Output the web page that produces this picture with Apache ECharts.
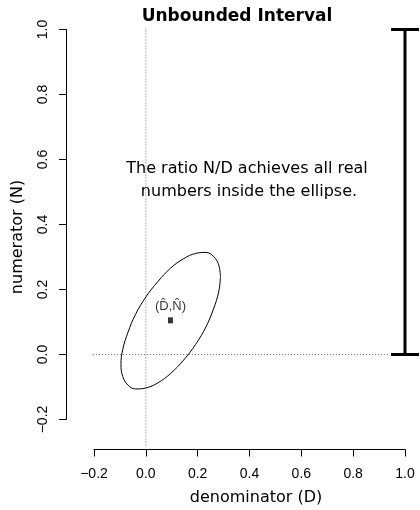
<!DOCTYPE html>
<html>
<head>
<meta charset="utf-8">
<script src="https://cdn.jsdelivr.net/npm/echarts@6/dist/echarts.min.js"></script>
<style>
  html, body { margin: 0; padding: 0; background: #fff; }
  #main { width: 420px; height: 510px; }
</style>
</head>
<body>
<div id="main"></div>
<script>
// ticks
const axisTicks = [-0.2, 0.0, 0.2, 0.4, 0.6, 0.8, 1.0]

// confidence ellipse outline (D, N)
const ellipseD = [0.288, 0.281, 0.261, 0.232, 0.192, 0.146, 0.096, 0.047, 0.000, -0.040, -0.069, -0.089,
  -0.096, -0.089, -0.069, -0.040, 0.000, 0.047, 0.096, 0.146, 0.192, 0.232, 0.261, 0.281, 0.288]
const ellipseN = [0.239, 0.276, 0.302, 0.314, 0.311, 0.295, 0.266, 0.225, 0.177, 0.123, 0.068, 0.016,
  -0.031, -0.068, -0.094, -0.106, -0.103, -0.087, -0.058, -0.017, 0.031, 0.085, 0.140, 0.192, 0.239]

// point estimate (D hat, N hat)
const estimate = [0.095, 0.105]

// reference lines D = 0 and N = 0
const vLineD = [0, 0]
const vLineN = [-0.28, 1.005]
const hLineD = [-0.25, 0.94]
const hLineN = [0, 0]

// the interval of N/D, drawn at D = 1
const intervalAt = 1.0
const intervalLow = 0.0
const intervalHigh = 1.0

const zip = (a, b) => a.map((v, i) => [v, b[i]])
const fmt = v => v.toFixed(1).replace('-', '\u2212')

const chart = echarts.init(document.getElementById('main'))

const axisCommon = {
  type: 'value',
  min: axisTicks[0],
  max: axisTicks[axisTicks.length - 1],
  interval: 0.2,
  splitLine: { show: false },
  axisLine: { show: true, onZero: false, lineStyle: { color: '#000', width: 1 } },
  axisTick: { show: true, length: 7, lineStyle: { color: '#000', width: 1 } },
  axisLabel: {
    formatter: fmt, color: '#000', fontFamily: 'Liberation Sans', fontSize: 14,
    showMinLabel: true, showMaxLabel: true
  }
}

const option = {
  animation: false,
  backgroundColor: '#fff',
  grid: { left: 94, right: 15, top: 29.5, bottom: 90.5 },
  xAxis: Object.assign({}, axisCommon, {
    position: 'bottom',
    offset: 30,
    axisLabel: Object.assign({}, axisCommon.axisLabel, { margin: 18 })
  }),
  yAxis: Object.assign({}, axisCommon, {
    position: 'left',
    offset: 28,
    axisLabel: Object.assign({}, axisCommon.axisLabel, { rotate: 90, margin: 16 })
  }),
  graphic: [
    { type: 'text', x: 237, y: 17, style: { text: 'Unbounded Interval', font: 'bold 17px "DejaVu Sans"', fill: '#000', textAlign: 'center', textVerticalAlign: 'middle' } },
    { type: 'text', x: 247, y: 169, style: { text: 'The ratio N/D achieves all real', font: '16px "DejaVu Sans"', fill: '#000', textAlign: 'center', textVerticalAlign: 'middle' } },
    { type: 'text', x: 249, y: 192, style: { text: 'numbers inside the ellipse.', font: '16px "DejaVu Sans"', fill: '#000', textAlign: 'center', textVerticalAlign: 'middle' } },
    { type: 'text', x: 256, y: 498, style: { text: 'denominator (D)', font: '16px "DejaVu Sans"', fill: '#000', textAlign: 'center', textVerticalAlign: 'middle' } },
    { type: 'text', x: 18, y: 237, rotation: Math.PI / 2, style: { text: 'numerator (N)', font: '16px "DejaVu Sans"', fill: '#000', textAlign: 'center', textVerticalAlign: 'middle' } }
  ],
  series: [
    {
      type: 'line', data: zip(vLineD, vLineN), symbol: 'none', clip: false, silent: true,
      lineStyle: { color: '#777', width: 1, type: [1, 2] }
    },
    {
      type: 'line', data: zip(hLineD, hLineN), symbol: 'none', clip: false, silent: true,
      lineStyle: { color: '#777', width: 1, type: [1, 2] }
    },
    {
      type: 'line', data: zip(ellipseD, ellipseN), symbol: 'none', smooth: 0.4, clip: false, silent: true,
      lineStyle: { color: '#000', width: 1 }
    },
    {
      type: 'scatter', data: [estimate], symbol: 'rect', symbolSize: [5, 6], silent: true,
      itemStyle: { color: '#000' },
      label: {
        show: true, position: 'top', distance: 4,
        formatter: '(D\u0302,N\u0302)', color: '#000', fontFamily: 'Liberation Sans', fontSize: 13
      }
    },
    {
      type: 'custom', clip: false, silent: true,
      data: [[intervalAt, intervalLow, intervalHigh]],
      renderItem: (params, api) => {
        const lo = api.coord([api.value(0), api.value(1)])
        const hi = api.coord([api.value(0), api.value(2)])
        const cap = 14
        const style = { stroke: '#000', lineWidth: 3 }
        return {
          type: 'group',
          children: [
            { type: 'line', shape: { x1: lo[0], y1: lo[1], x2: hi[0], y2: hi[1] }, style },
            { type: 'line', shape: { x1: lo[0] - cap, y1: lo[1], x2: lo[0] + cap, y2: lo[1] }, style },
            { type: 'line', shape: { x1: hi[0] - cap, y1: hi[1], x2: hi[0] + cap, y2: hi[1] }, style }
          ]
        }
      }
    }
  ]
}

chart.setOption(option)
</script>
</body>
</html>
